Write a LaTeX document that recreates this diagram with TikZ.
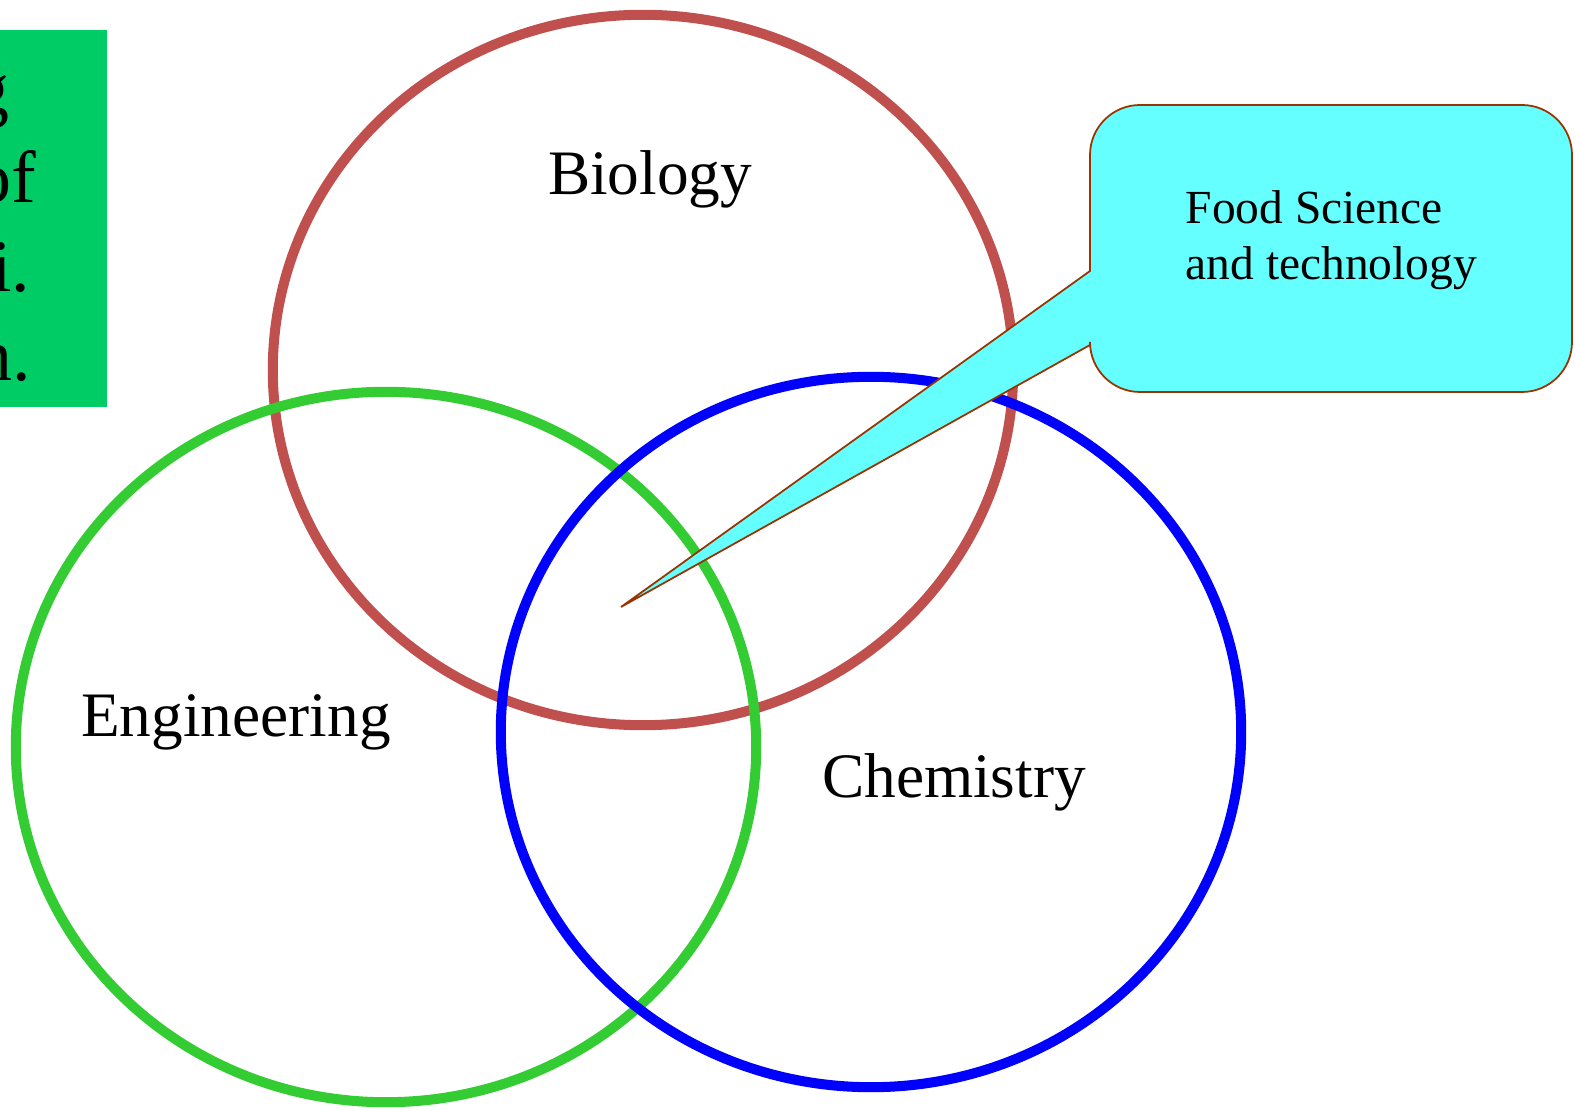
\documentclass[tikz,border=0pt]{standalone}
\usepackage{fontspec}
\setmainfont{Liberation Serif}
\usepackage{tikz}
\definecolor{bioRed}{HTML}{C0504D}
\definecolor{engGreen}{HTML}{33CC33}
\definecolor{boxGreen}{HTML}{00CC66}
\definecolor{calloutFill}{HTML}{66FFFF}
\definecolor{calloutLine}{HTML}{993300}
\tikzset{
  ring/.style={line width=2.85pt},
  subject/.style={font=\fontsize{18}{22}\selectfont, inner sep=0pt},
  sidetext/.style={font=\fontsize{21}{25}\selectfont, anchor=base east, inner sep=0pt}
}

\begin{document}
\begin{tikzpicture}[x=0.01cm, y=-0.01cm]
			%%%%% START %%%%%
			\useasboundingbox (0, 0) rectangle (1575, 1110);
			
			% green side box, its text cut at the page edge
			\fill[boxGreen] (0, 30) rectangle (107, 407);
			\begin{scope}
				\clip (0, 30) rectangle (107, 407);
				\node[sidetext] (sideA) at (10, 114) {g};
				\node[sidetext] (sideB) at (37, 203) {of};
				\node[sidetext] (sideC) at (31, 292) {i.};
				\node[sidetext] (sideD) at (32, 381) {n.};
			\end{scope}
			
			% the three rings
			\draw[ring, bioRed] (643, 370) ellipse [x radius=3.70cm, y radius=3.55cm];
			\draw[ring, engGreen] (386, 747) ellipse [x radius=3.70cm, y radius=3.55cm];
			\draw[ring, blue] (871, 732) ellipse [x radius=3.70cm, y radius=3.55cm];
			
			\node[subject] (bio) at (650, 179) {Biology};
			\node[subject] (eng) at (236, 722) {Engineering};
			\node[subject] (chem) at (954, 782) {Chemistry};
			
			% callout
			\coordinate (tip) at (621, 607);
			\draw[fill=calloutFill, draw=calloutLine, line width=0.5pt]
				(1090, 271) [rounded corners=0.5cm] -- (1090, 105) -- (1572, 105) -- (1572, 392) -- (1090, 392)
				[sharp corners] -- (1090, 345) -- (tip) -- cycle;
			\node[font=\fontsize{13.5}{16}\selectfont, align=left, anchor=west, inner sep=0pt] (food) at (1185, 240) {Food Science\\and technology};
			
			%%%%% END %%%%%
\end{tikzpicture}
\end{document}
